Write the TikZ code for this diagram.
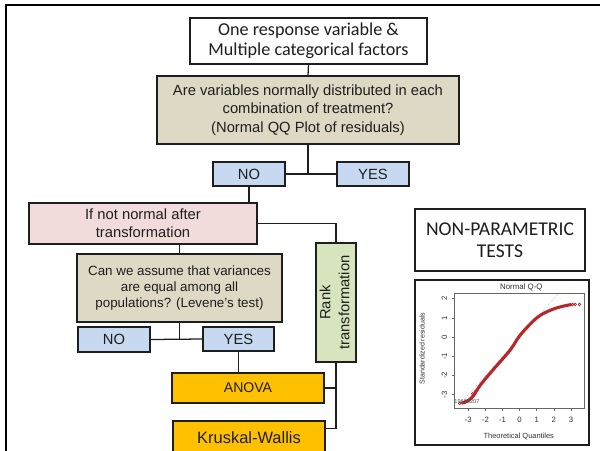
\documentclass[tikz,border=0pt]{standalone}
\usepackage{fontspec}
\usetikzlibrary{calc}
\setmainfont{Liberation Sans}
\newfontfamily\calibfont{Carlito}
\definecolor{cTan}{HTML}{DDD9C4}
\definecolor{cBlue}{HTML}{C6D9F1}
\definecolor{cPink}{HTML}{F2DCDB}
\definecolor{cGreen}{HTML}{D7E4BD}
\definecolor{cOrange}{HTML}{FFC000}
\definecolor{cRed}{HTML}{B8262A}
\definecolor{cInk}{HTML}{1E1E1E}
\begin{document}
\begin{tikzpicture}[x=0.025cm,y=-0.025cm,
  box/.style={draw=cInk, line width=1.1pt, inner sep=0pt, align=center, text=cInk},
  conn/.style={line width=0.9pt, draw=cInk},
  arial/.style={font=\fontsize{10.5}{13}\selectfont},
  tick/.style={font=\fontsize{5.5}{6}\selectfont, text=black!80, inner sep=0pt}]
\useasboundingbox (0,0) rectangle (600,450);
\clip (0,0) rectangle (600,450);
\fill[white] (0,0) rectangle (600,450);
\draw[line width=1.6pt] (6,5) rectangle (640,490);

% main nodes
\node[box, fill=white, minimum width=5.925cm, minimum height=1.15cm,
  font=\calibfont\fontsize{12.9}{14.4}\selectfont] (top) at (308.5,41)
  {One response variable \&\\Multiple categorical factors};
\node[box, fill=cTan, minimum width=7.55cm, minimum height=1.7cm, arial] (g1) at (308,110)
  {Are variables normally distributed in each\\combination of treatment?\\(Normal QQ Plot of residuals)};
\node[box, fill=cBlue, minimum width=1.8cm, minimum height=0.6cm, arial] (no1) at (249,174) {NO};
\node[box, fill=cBlue, minimum width=1.8cm, minimum height=0.6cm, arial] (yes1) at (373,174) {YES};
\node[box, fill=cPink, minimum width=5.7cm, minimum height=1.025cm, arial] (pink) at (143,223.5)
  {If not normal after\\transformation};
\node[box, fill=cTan, minimum width=5.125cm, minimum height=1.7cm,
  font=\fontsize{9.5}{11.7}\selectfont] (g2) at (179.5,288)
  {Can we assume that variances\\are equal among all\\populations? (Levene's test)};
\node[box, fill=cBlue, minimum width=1.8cm, minimum height=0.625cm, arial] (no2) at (114,339.5) {NO};
\node[box, fill=cBlue, minimum width=1.775cm, minimum height=0.6cm, arial] (yes2) at (238.5,339) {YES};
\node[box, fill=cGreen, minimum width=1cm, minimum height=2.975cm] (rank) at (336,302.5)
  {\rotatebox{90}{\fontsize{10.5}{13.5}\selectfont\begin{tabular}{@{}c@{}}Rank\\transformation\end{tabular}}};
\node[box, fill=cOrange, minimum width=3.8cm, minimum height=0.75cm,
  font=\fontsize{10}{12}\selectfont] (anova) at (248,388) {ANOVA};
\node[box, fill=cOrange, minimum width=3.8cm, minimum height=0.85cm,
  font=\fontsize{11.7}{14}\selectfont] (kw) at (249,438) {Kruskal-Wallis};
\node[box, fill=white, minimum width=4.25cm, minimum height=1.55cm,
  font=\calibfont\fontsize{13.9}{15.6}\selectfont] (np) at (500,240) {NON-PARAMETRIC\\TESTS};
\node[box, fill=white, minimum width=4.35cm, minimum height=4.125cm] (qq) at (502,362.5) {};

% connectors
\draw[conn] (top.south) -- (g1.north);
\coordinate (j1) at (g1.south |- no1.east);
\draw[conn] (g1.south) -- (j1);
\draw[conn] (no1.east) -- (yes1.west);
\draw[conn] (no1.south) -- (no1.south |- pink.north);
\draw[conn] (pink.east) -| (rank.north);
\draw[conn] (g2.north) -- (g2.north |- pink.south);
\coordinate (j2) at (g2.south |- no2.east);
\draw[conn] (g2.south) -- (j2);
\draw[conn] (no2.east) -- (yes2.west);
\draw[conn] (yes2.south) -- (yes2.south |- anova.north);
\coordinate (kwin) at ($(kw.north east)+(0,8)$);
\draw[conn] (rank.south) |- (kwin);
\draw[conn] (anova.east) -- (anova.east -| rank.south);

% QQ plot
\begin{scope}[shift={(12.9875cm,-8.425cm)}, x=0.4275cm, y=0.48cm]
  \draw[black!60, line width=0.4pt] (-3.83,-3.70) rectangle (3.77,2.29);
  \begin{scope}
    \clip (-3.83,-3.70) rectangle (3.77,2.29);
    \draw[black!35, densely dotted, line width=0.4pt] (-3.6,-3.6) -- (2.5,2.5);
    \draw[cRed, line width=2.2pt, line cap=round] plot[smooth, tension=0.6] coordinates
      {(-3.3,-3.42) (-3.0,-3.3) (-2.7,-3.05) (-2.3,-2.5) (-1.55,-1.7) (-0.55,-0.67)
       (0.03,0.1) (1.0,1.0) (1.8,1.4) (2.5,1.6) (3.0,1.69)};
    \foreach \p in {(-3.5,-3.45),(-3.35,-3.43),(-3.2,-3.4),(-2.85,-3.2),(-2.75,-2.95),
                    (-2.6,-2.85),(3.1,1.7),(3.25,1.7),(3.5,1.7)}
      \draw[cRed, line width=0.5pt] \p circle[radius=0.07];
    \node[font=\fontsize{4}{4}\selectfont, text=black!70, inner sep=0pt, anchor=west] (lab) at (-3.83,-3.38) {19688207};
  \end{scope}
  \foreach \t in {-3,...,3} {
    \draw[black!60, line width=0.4pt] (\t,-3.70) -- (\t,-3.85);
    \node[tick] (xt\t) at (\t,-4.3) {\t};
  }
  \foreach \t in {-3,...,2} {
    \draw[black!60, line width=0.4pt] (-3.83,\t) -- (-3.95,\t);
    \node[tick, rotate=90] (yt\t) at (-4.4,\t) {\t};
  }
  \node[tick, font=\fontsize{5.6}{6}\selectfont] (ttl) at (0.1,2.6) {Normal Q-Q};
  \node[tick, font=\fontsize{5.3}{6}\selectfont] (xl) at (-0.05,-5.2) {Theoretical Quantiles};
  \node[tick, rotate=90, font=\fontsize{5}{6}\selectfont] (yl) at (-5.7,-0.6) {Standardized residuals};
\end{scope}
\end{tikzpicture}
\end{document}
